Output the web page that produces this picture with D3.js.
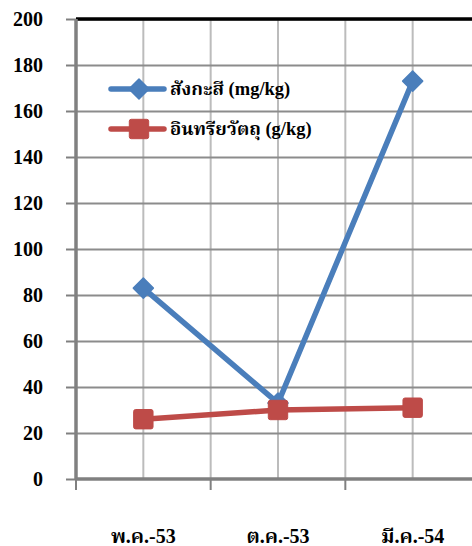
<!DOCTYPE html>
<html>
<head>
<meta charset="utf-8">
<script src="https://cdn.jsdelivr.net/npm/d3@7"></script>
<style>
  html, body { margin: 0; padding: 0; background: #fff; }
  svg { display: block; }
</style>
</head>
<body>
<svg id="chart" width="472" height="546"></svg>
<script>
// Data
const categories = ["พ.ค.-53", "ต.ค.-53", "มี.ค.-54"];
const zincValues = [83, 33, 173];      // สังกะสี (mg/kg)
const organicValues = [26, 30, 31];    // อินทรียวัตถุ (g/kg)
const yTicks = [0, 20, 40, 60, 80, 100, 120, 140, 160, 180, 200];
const seriesNames = ["สังกะสี (mg/kg)", "อินทรียวัตถุ (g/kg)"];

(function () {
// Latin glyphs from Liberation Serif; Thai glyphs from a looped serif face when one is present
const FONT = "'Liberation Serif', 'Times New Roman', 'Noto Serif Thai', Norasi, 'Noto Sans Thai Looped', serif";
const svg = d3.select("#chart");
const pLeft = 76, pRight = 480, pTop = 19, pBottom = 479;

const x = d3.scaleBand().domain(categories).range([pLeft, pRight]).padding(0);
const y = d3.scaleLinear().domain([0, 200]).range([pBottom, pTop]);
const cx = c => x(c) + x.bandwidth() / 2;

const styleText = sel => sel
  .style("font-family", FONT).style("font-weight", "bold").attr("fill", "#000");

// Vertical gridlines at category centres and band boundaries
const vLines = [];
categories.forEach(c => { vLines.push(cx(c)); });
categories.slice(1).forEach(c => { vLines.push(x(c)); });
svg.append("g").selectAll("line").data(vLines).join("line")
  .attr("x1", d => d).attr("x2", d => d)
  .attr("y1", pTop).attr("y2", pBottom)
  .attr("stroke", "#bcbcbc").attr("stroke-width", 2);

// Horizontal gridlines
svg.append("g")
  .attr("transform", `translate(${pLeft},0)`)
  .call(d3.axisLeft(y).tickValues(yTicks.slice(1)).tickSize(-(pRight - pLeft)).tickFormat(""))
  .call(g => g.select(".domain").remove())
  .call(g => g.selectAll("line").attr("stroke", "#8c8c8c").attr("stroke-width", 2));

// Top border
svg.append("line")
  .attr("x1", pLeft).attr("x2", 472).attr("y1", pTop).attr("y2", pTop)
  .attr("stroke", "#000").attr("stroke-width", 3.5);

// Y axis
const yAxis = svg.append("g")
  .attr("transform", `translate(${pLeft},0)`)
  .call(d3.axisLeft(y).tickValues(yTicks).tickSize(10).tickPadding(23));
yAxis.attr("font-family", null).attr("font-size", null);
yAxis.select(".domain").attr("stroke", "#808080").attr("stroke-width", 3.5).attr("d", `M0,${pTop}V${pBottom}`);
yAxis.selectAll(".tick line").attr("stroke", "#808080").attr("stroke-width", 2);
yAxis.selectAll(".tick text").call(styleText).style("font-size", "20px");

// X axis line with boundary ticks
svg.append("line")
  .attr("x1", pLeft).attr("x2", 472).attr("y1", pBottom).attr("y2", pBottom)
  .attr("stroke", "#808080").attr("stroke-width", 3.5);
const bounds = categories.map(c => x(c));
svg.append("g").selectAll("line").data(bounds).join("line")
  .attr("x1", d => d).attr("x2", d => d)
  .attr("y1", pBottom).attr("y2", pBottom + 11)
  .attr("stroke", "#808080").attr("stroke-width", 2);

// X labels
svg.append("g").selectAll("text").data(categories).join("text")
  .attr("x", d => cx(d)).attr("y", 543)
  .attr("text-anchor", "middle")
  .call(styleText)
  .style("font-size", "20px")
  .text(d => d);

// Series
const blue = "#4a7ebb", red = "#be4b48";
const line = d3.line().x(d => cx(d.c)).y(d => y(d.v));
const zinc = categories.map((c, i) => ({ c, v: zincValues[i] }));
const organic = categories.map((c, i) => ({ c, v: organicValues[i] }));

const diamond = (g, px, py, s) => g.append("path")
  .attr("d", `M${px},${py - s}L${px + s},${py}L${px},${py + s}L${px - s},${py}Z`)
  .attr("fill", blue).attr("stroke", blue).attr("stroke-width", 1.5).attr("stroke-linejoin", "round");
const square = (g, px, py, s) => g.append("rect")
  .attr("x", px - s).attr("y", py - s).attr("width", 2 * s).attr("height", 2 * s)
  .attr("rx", 2).attr("fill", red).attr("stroke", red).attr("stroke-width", 1);

const gz = svg.append("g");
gz.append("path").datum(zinc).attr("d", line)
  .attr("fill", "none").attr("stroke", blue).attr("stroke-width", 5.5).attr("stroke-linejoin", "round");
zinc.forEach(d => diamond(gz, cx(d.c), y(d.v), 10));

const go = svg.append("g");
go.append("path").datum(organic).attr("d", line)
  .attr("fill", "none").attr("stroke", red).attr("stroke-width", 5.5).attr("stroke-linejoin", "round");
organic.forEach(d => square(go, cx(d.c), y(d.v), 9.7));

// Legend
const legend = svg.append("g");
const legY = [89, 129];
[blue, red].forEach((col, i) => {
  legend.append("line")
    .attr("x1", 111).attr("x2", 164).attr("y1", legY[i]).attr("y2", legY[i])
    .attr("stroke", col).attr("stroke-width", 5.5).attr("stroke-linecap", "round");
  if (i === 0) diamond(legend, 139, legY[i], 10); else square(legend, 139, legY[i], 9.7);
  legend.append("text")
    .attr("x", 170).attr("y", legY[i] + 6)
    .call(styleText)
    .style("font-size", "18.5px")
    .text(seriesNames[i]);
});
})();
</script>
</body>
</html>
